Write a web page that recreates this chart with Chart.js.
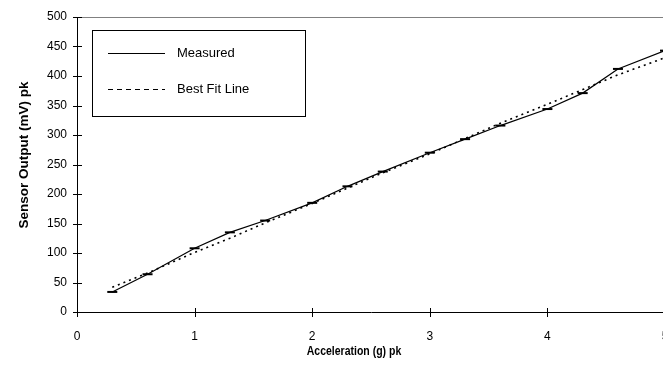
<!DOCTYPE html>
<html>
<head>
<meta charset="utf-8">
<title>Sensor Output vs Acceleration</title>
<script src="https://cdn.jsdelivr.net/npm/chart.js@4.4.0/dist/chart.umd.min.js"></script>
<style>
    html, body { margin: 0; padding: 0; background: #fff; overflow: hidden; }
    #wrap { width: 663px; height: 369px; overflow: hidden; }
    canvas { display: block; }
</style>
</head>
<body>
<div id="wrap"><canvas id="sensorChart" width="665" height="369"></canvas></div>
<script>
// Acceleration values (g pk) at which readings were taken
const accel = [0.3, 0.6, 1.0, 1.3, 1.6, 2.0, 2.3, 2.6, 3.0, 3.3, 3.6, 4.0, 4.3, 4.6, 5.0];

// Sensor output (mV pk)
const measured = [34, 64, 108, 135, 155, 185, 213, 238, 270, 293, 316, 344, 371, 412, 443];
const bestFit  = [42, 66, 101, 125, 151, 184, 210, 236, 268, 294, 320, 352, 377, 402, 431];

// Axis ranges and steps
const xRange = [0, 5];
const xStep = 1;
const yRange = [0, 500];
const yStep = 50;

const FONT = "'Liberation Sans', Arial, sans-serif";

function toPoints(xs, ys) {
    return xs.map((x, i) => ({ x: x, y: ys[i] }));
}

// Plot frame (gray top/right border) and tick marks crossing the axes
const frameAndTicks = {
    id: 'frameAndTicks',
    beforeDatasetsDraw(chart) {
        const { ctx, chartArea } = chart;
        ctx.save();
        ctx.strokeStyle = '#808080';
        ctx.lineWidth = 1;
        ctx.beginPath();
        ctx.moveTo(chartArea.left, chartArea.top + 0.5);
        ctx.lineTo(chartArea.right, chartArea.top + 0.5);
        ctx.moveTo(chartArea.right - 0.5, chartArea.top);
        ctx.lineTo(chartArea.right - 0.5, chartArea.bottom);
        ctx.stroke();
        ctx.restore();
    },
    afterDraw(chart) {
        const { ctx, chartArea, scales } = chart;
        ctx.save();
        ctx.strokeStyle = '#000';
        ctx.lineWidth = 1;
        ctx.beginPath();
        scales.x.ticks.forEach(t => {
            const px = Math.round(scales.x.getPixelForValue(t.value)) + 0.5;
            ctx.moveTo(px, chartArea.bottom - 4);
            ctx.lineTo(px, chartArea.bottom + 5);
        });
        scales.y.ticks.forEach(t => {
            const py = Math.round(scales.y.getPixelForValue(t.value)) + 0.5;
            ctx.moveTo(chartArea.left - 4, py);
            ctx.lineTo(chartArea.left + 5, py);
        });
        ctx.stroke();

        // axis titles
        ctx.fillStyle = '#000';
        ctx.textAlign = 'center';
        ctx.textBaseline = 'alphabetic';

        ctx.save();
        ctx.font = 'bold 12.5px ' + FONT;
        ctx.translate(354, 355);
        ctx.scale(0.84, 1);
        ctx.fillText('Acceleration (g) pk', 0, 0);
        ctx.restore();

        ctx.font = 'bold 13.5px ' + FONT;
        ctx.translate(28, 155);
        ctx.rotate(-Math.PI / 2);
        ctx.fillText('Sensor Output (mV) pk', 0, 0);
        ctx.restore();
    }
};

// Boxed legend inside the plot area, upper left
const boxLegend = {
    id: 'boxLegend',
    afterDraw(chart) {
        const { ctx } = chart;
        const box = { left: 92, top: 30, width: 213, height: 86 };
        ctx.save();
        ctx.fillStyle = '#fff';
        ctx.fillRect(box.left, box.top, box.width, box.height);
        ctx.strokeStyle = '#000';
        ctx.lineWidth = 1;
        ctx.strokeRect(box.left + 0.5, box.top + 0.5, box.width, box.height);

        const rows = [53.5, 89.5];
        ctx.font = '13px ' + FONT;
        ctx.textAlign = 'left';
        ctx.textBaseline = 'middle';
        chart.data.datasets.forEach((ds, i) => {
            ctx.beginPath();
            ctx.setLineDash(ds.borderDash && ds.borderDash.length ? [5, 4] : []);
            ctx.lineWidth = 1.2;
            ctx.strokeStyle = ds.borderColor;
            ctx.moveTo(108, rows[i]);
            ctx.lineTo(165, rows[i]);
            ctx.stroke();
            ctx.setLineDash([]);
            ctx.fillStyle = '#000';
            ctx.fillText(ds.label, 177, rows[i]);
        });
        ctx.restore();
    }
};

const ctx = document.getElementById('sensorChart').getContext('2d');

new Chart(ctx, {
    type: 'line',
    data: {
        datasets: [
            {
                label: 'Measured',
                data: toPoints(accel, measured),
                borderColor: '#000',
                borderWidth: 1.2,
                pointStyle: 'line',
                pointRadius: 5,
                pointBorderWidth: 2,
                pointBorderColor: '#000',
                pointBackgroundColor: '#000',
                tension: 0,
                fill: false,
                clip: false
            },
            {
                label: 'Best Fit Line',
                data: toPoints(accel, bestFit),
                borderColor: '#000',
                borderWidth: 1.6,
                borderDash: [2, 4],
                pointRadius: 0,
                tension: 0,
                fill: false
            }
        ]
    },
    options: {
        responsive: false,
        animation: false,
        events: [],
        layout: {
            autoPadding: false,
            padding: { top: 17, left: 0, right: 0, bottom: 0 }
        },
        plugins: {
            legend: { display: false },
            tooltip: { enabled: false }
        },
        scales: {
            x: {
                type: 'linear',
                min: xRange[0],
                max: xRange[1],
                grid: { display: false, drawTicks: false },
                border: { display: true, color: '#000', width: 1 },
                ticks: {
                    stepSize: xStep,
                    padding: 17,
                    color: '#000',
                    font: { family: FONT, size: 12 },
                    maxRotation: 0
                },
                afterFit(scale) {
                    scale.height = 57;
                    scale.paddingLeft = 0;
                    scale.paddingRight = 0;
                }
            },
            y: {
                type: 'linear',
                min: yRange[0],
                max: yRange[1],
                grid: { display: false, drawTicks: false },
                border: { display: true, color: '#000', width: 1 },
                ticks: {
                    stepSize: yStep,
                    padding: 10,
                    color: '#000',
                    font: { family: FONT, size: 12 }
                },
                afterFit(scale) {
                    scale.width = 77;
                    scale.paddingTop = 0;
                    scale.paddingBottom = 0;
                }
            }
        }
    },
    plugins: [frameAndTicks, boxLegend]
});
</script>
</body>
</html>
